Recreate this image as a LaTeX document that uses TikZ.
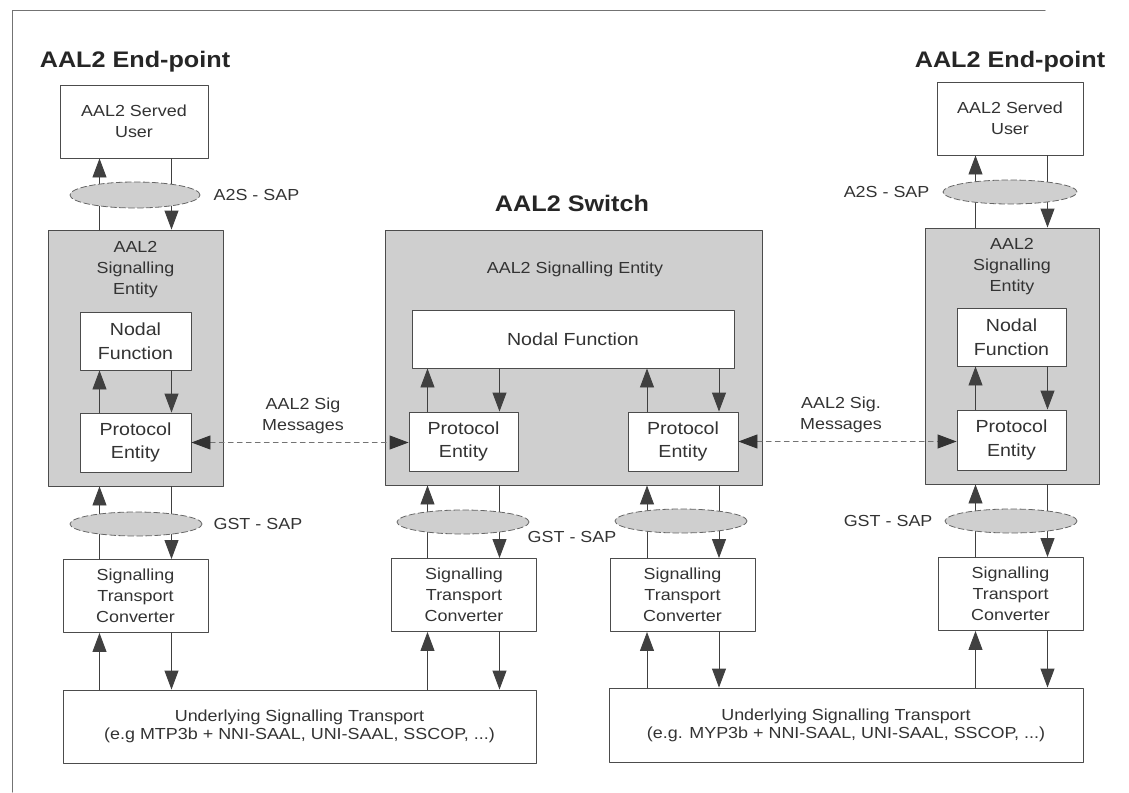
\documentclass[tikz,border=0pt]{standalone}
\usepackage{fontspec}
\setmainfont{Liberation Sans}[FakeStretch=1.12]
\usetikzlibrary{arrows.meta,positioning,shapes.geometric}
\begin{document}
\begin{tikzpicture}[x=1pt, y=-1pt, line cap=round, line join=round,
		head/.tip={Triangle[width=14pt,length=19pt]},
		every node/.style={text=black!80},
		small/.style={font=\fontsize{16}{21}\selectfont, align=center},
		big/.style={font=\fontsize{17.5}{23.5}\selectfont, align=center},
		title/.style={font=\bfseries\fontsize{22.5}{27}\selectfont, text=black!85},
		box/.style={draw=black!70, fill=white, line width=0.9pt, inner sep=0pt},
		entity/.style={draw=black!70, fill=gray!38, line width=0.9pt, inner sep=0pt},
		sap/.style={ellipse, draw=black!60, dash pattern=on 6pt off 3pt, fill=gray!38, line width=0.8pt, inner sep=0pt},
		lbl/.style={small, inner sep=0pt},
		link/.style={draw=black!75, line width=0.9pt, -head},
		msg/.style={draw=black!55, line width=0.9pt, dash pattern=on 5pt off 4pt, {head[black!80]}-{head[black!80]}}]
	\useasboundingbox (0,0) rectangle (1129,792);
	
	% 1. Khung ngoai
	\draw[black!55, line width=1pt] (1045,11) -- (12,11) -- (12,792);
	
	% 2. Tieu de
	\node[title] (tL) at (135,62) {AAL2 End-point};
	\node[title] (tS) at (572,203) {AAL2 Switch};
	\node[title] (tR) at (1010,62) {AAL2 End-point};
	
	% 3. Cac khoi AAL2 Signalling Entity (nen xam)
	\node[entity, minimum width=175pt, minimum height=256pt] (seL) at (135.5,358) {};
	\node[entity, minimum width=377pt, minimum height=255pt] (seS) at (573.5,357.5) {};
	\node[entity, minimum width=174pt, minimum height=256pt] (seR) at (1012,356) {};
	\node[small] (seLtxt) at (135.5,270) {AAL2\\Signalling\\Entity};
	\node[small] (seStxt) at (575,269) {AAL2 Signalling Entity};
	\node[small] (seRtxt) at (1012,267) {AAL2\\Signalling\\Entity};
	
	% 4. Nodal Function va Protocol Entity
	\node[box, big, minimum width=111pt, minimum height=58pt] (nfL) at (135.5,341) {Nodal\\Function};
	\node[box, big, minimum width=322pt, minimum height=58pt] (nfS) at (573,339) {Nodal Function};
	\node[box, big, minimum width=109pt, minimum height=58pt] (nfR) at (1011.5,337) {Nodal\\Function};
	\node[box, big, minimum width=111pt, minimum height=59pt] (pe1) at (135.5,442.5) {Protocol\\Entity};
	\node[box, big, minimum width=109pt, minimum height=59pt] (pe2) at (463.5,441.5) {Protocol\\Entity};
	\node[box, big, minimum width=110pt, minimum height=59pt] (pe3) at (683,441.5) {Protocol\\Entity};
	\node[box, big, minimum width=109pt, minimum height=60pt] (pe4) at (1011.5,440) {Protocol\\Entity};
	
	% 5. AAL2 Served User
	\node[box, small, minimum width=148pt, minimum height=73pt] (suL) at (134,121.5) {AAL2 Served\\User};
	\node[box, small, minimum width=146pt, minimum height=73pt] (suR) at (1010,118.5) {AAL2 Served\\User};
	
	% 6. Signalling Transport Converter
	\foreach \c/\px/\py in {1/135.5/596, 2/464/595, 3/682.5/595, 4/1010.5/594}
		\node[box, small, minimum width=145pt, minimum height=73pt] (stc\c) at (\px,\py) {Signalling\\Transport\\Converter};
	
	% 7. Underlying Signalling Transport
	\node[box, small, font=\fontsize{16}{18}\selectfont, minimum width=473pt, minimum height=73pt] (ustL) at (299.5,726.5)
		{Underlying Signalling Transport\\(e.g MTP3b + NNI-SAAL, UNI-SAAL, SSCOP, ...)};
	\node[box, small, font=\fontsize{16}{18}\selectfont, minimum width=474pt, minimum height=74pt] (ustR) at (846,725)
		{Underlying Signalling Transport\\(e.g. MYP3b + NNI-SAAL, UNI-SAAL, SSCOP, ...)};
	
	% 8. Mui ten doc trong tung cot
	\foreach \c/\e/\u in {1/L/L, 2/S/L, 3/S/R, 4/R/R} {
		\draw[link] ([xshift=-36pt]pe\c.north) -- ([xshift=-36pt]pe\c.north |- nf\e.south);
		\draw[link] ([xshift=36pt]pe\c.north |- nf\e.south) -- ([xshift=36pt]pe\c.north);
		\draw[link] ([xshift=-36pt]pe\c.center |- stc\c.north) -- ([xshift=-36pt]pe\c.center |- se\e.south);
		\draw[link] ([xshift=36pt]pe\c.center |- se\e.south) -- ([xshift=36pt]pe\c.center |- stc\c.north);
		\draw[link] ([xshift=-36pt]pe\c.center |- ust\u.north) -- ([xshift=-36pt]pe\c.center |- stc\c.south);
		\draw[link] ([xshift=36pt]pe\c.center |- stc\c.south) -- ([xshift=36pt]pe\c.center |- ust\u.north);
	}
	\foreach \c/\e in {1/L, 4/R} {
		\draw[link] ([xshift=-36pt]pe\c.center |- se\e.north) -- ([xshift=-36pt]pe\c.center |- su\e.south);
		\draw[link] ([xshift=36pt]pe\c.center |- su\e.south) -- ([xshift=36pt]pe\c.center |- se\e.north);
	}
	
	% 9. AAL2 Sig Messages
	\draw[msg] (pe1.east) -- (pe1.east -| pe2.west);
	\draw[msg] (pe3.east) -- (pe3.east -| pe4.west);
	\node[small] (msgL) at (303,416) {AAL2 Sig\\Messages};
	\node[small] (msgR) at (841,415) {AAL2 Sig.\\Messages};
	
	% 10. Cac SAP (hinh elip)
	\node[sap, minimum width=130pt, minimum height=26pt] (a2sL) at (135,195) {};
	\node[sap, minimum width=134pt, minimum height=24pt] (a2sR) at (1010,192) {};
	\foreach \c/\px/\py in {1/136/524, 2/463/522, 3/681/521, 4/1011/521}
		\node[sap, minimum width=132pt, minimum height=24pt] (gst\c) at (\px,\py) {};
	\node[lbl, right=13pt of a2sL] (a2sLlbl) {A2S - SAP};
	\node[lbl, left=13pt of a2sR] (a2sRlbl) {A2S - SAP};
	\node[lbl, right=11pt of gst1] (gst1lbl) {GST - SAP};
	\node[lbl] (gst2lbl) at (572,537) {GST - SAP};
	\node[lbl, left=12pt of gst4] (gst4lbl) {GST - SAP};
\end{tikzpicture}
\end{document}
